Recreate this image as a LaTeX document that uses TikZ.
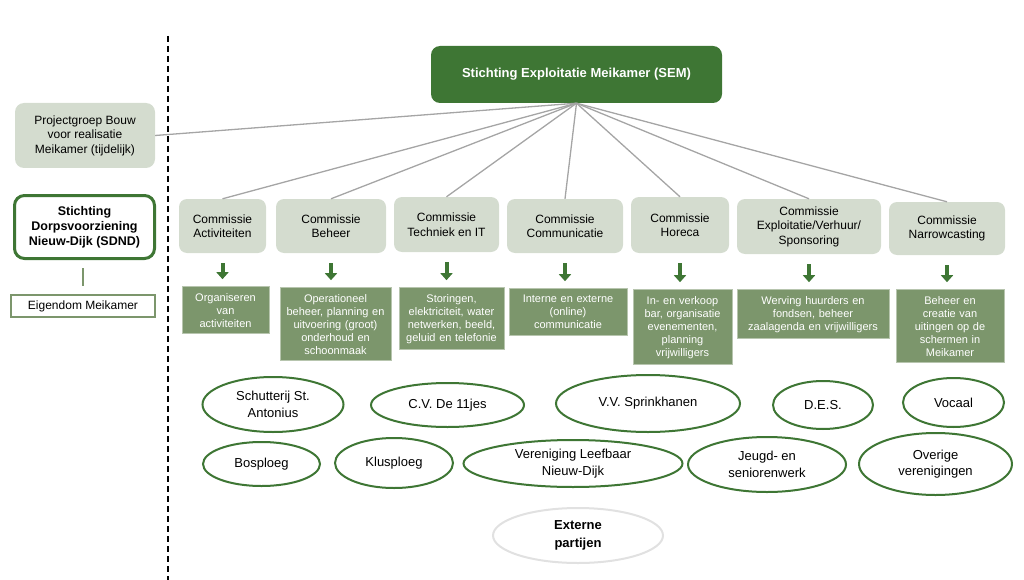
\documentclass[tikz,border=0pt]{standalone}
\usepackage{fontspec}
\setmainfont{Liberation Sans}
\usepackage{tikz}
\usetikzlibrary{positioning, arrows.meta, shapes.geometric}
\definecolor{semgreen}{RGB}{62,118,52}
\definecolor{comgray}{RGB}{212,220,207}
\definecolor{taskgreen}{RGB}{124,150,108}
\definecolor{linegray}{RGB}{165,165,165}
\definecolor{extgray}{RGB}{225,225,225}

\begin{document}
\begin{tikzpicture}[x=1pt, y=-1pt, font=\fontsize{12}{14.5}\selectfont,
    com/.style={rounded corners=8pt, fill=comgray, align=center, minimum height=54pt, inner sep=2pt},
    task/.style={fill=taskgreen, draw=taskgreen!55, line width=0.8pt, text=white, align=center,
      inner xsep=2pt, inner ysep=6.5pt, font=\fontsize{11}{13}\selectfont},
    club/.style={ellipse, draw=semgreen, line width=2pt, fill=white, align=center, inner sep=0pt,
      font=\fontsize{13}{16.5}\selectfont},
    down/.style={-{Triangle[width=12pt,length=7pt]}, line width=4pt, draw=semgreen,
      shorten <=10pt, shorten >=7pt},
    tie/.style={draw=linegray, line width=1.3pt}]
  \useasboundingbox (0,0) rectangle (1024,580);
  % scheiding
  \coordinate (top) at (168,36);
  \coordinate (bot) at (168,580);
  \draw[line width=1.5pt, dash pattern=on 6pt off 4pt] (top) -- (bot);
  % bestuur
  \node[rounded corners=9pt, fill=semgreen, text=white, font=\fontsize{13}{15}\selectfont\bfseries,
        minimum width=291pt, minimum height=57pt] (SEM) at (576.5,74.5) {Stichting Exploitatie Meikamer (SEM)};
  \node[com, rounded corners=9pt, minimum width=140pt, minimum height=65pt] (PB) at (85,135.5)
    {Projectgroep Bouw\\voor realisatie\\Meikamer (tijdelijk)};
  \node[draw=semgreen, line width=3pt, rounded corners=10pt, fill=white, align=center,
        font=\fontsize{12.5}{15}\selectfont\bfseries, minimum width=140pt, minimum height=63pt] (SD) at (84.5,227)
    {Stichting\\Dorpsvoorziening\\Nieuw-Dijk (SDND)};
  \node[draw=taskgreen, line width=2pt, fill=white, minimum width=144pt, minimum height=22pt] (EM) at (83,306)
    {Eigendom Meikamer};
  \draw[draw=taskgreen, line width=2pt, shorten <=8pt, shorten >=8pt] (SD.south -| EM) -- (EM.north);
  % commissies
  \node[com, minimum width=87pt] (C1) at (222.5,226) {Commissie\\Activiteiten};
  \node[com, minimum width=110pt] (C2) at (331,226) {Commissie\\Beheer};
  \node[com, minimum width=105pt, minimum height=55pt] (C3) at (446.5,224.5) {Commissie\\Techniek en IT};
  \node[com, minimum width=116pt] (C4) at (565,226) {Commissie\\Communicatie};
  \node[com, minimum width=98pt, minimum height=56pt] (C5) at (680,225) {Commissie\\Horeca};
  \node[com, minimum width=144pt, minimum height=55pt] (C6) at (809,226.5) {Commissie\\Exploitatie/Verhuur/\\Sponsoring};
  \node[com, minimum width=116pt, minimum height=53pt] (C7) at (947,228.5) {Commissie\\Narrowcasting};
  \draw[tie] (SEM.south) -- (PB.east);
  \foreach \c in {C1,C2,C3,C4,C5,C6,C7}
    \draw[tie] (SEM.south) -- (\c.north);
  % taken
  \node[task, text width=83pt, below=33pt of C1, xshift=3pt] (T1) {Organiseren\\van\\activiteiten};
  \node[task, text width=107pt, below=34pt of C2, xshift=4.5pt] (T2)
    {Operationeel\\beheer, planning en\\uitvoering (groot)\\onderhoud en\\schoonmaak};
  \node[task, text width=101pt, below=35pt of C3, xshift=5pt] (T3)
    {Storingen,\\elektriciteit, water\\netwerken, beeld,\\geluid en telefonie};
  \node[task, text width=114pt, below=35pt of C4, xshift=3pt] (T4) {Interne en externe\\(online)\\communicatie};
  \node[task, text width=95pt, below=36pt of C5, xshift=2.5pt] (T5)
    {In- en verkoop\\bar, organisatie\\evenementen,\\planning\\vrijwilligers};
  \node[task, text width=148pt, below=35pt of C6, xshift=4pt] (T6)
    {Werving huurders en\\fondsen, beheer\\zaalagenda en vrijwilligers};
  \node[task, text width=104pt, below=34pt of C7, xshift=3pt] (T7)
    {Beheer en creatie van\\uitingen op de\\schermen in\\Meikamer};
  \foreach \i in {1,...,7}
    \draw[down] (C\i.south) -- (C\i.south |- T\i.north);
  % verenigingen
  \node[club, minimum width=141pt, minimum height=55pt] (V1) at (273,404.5) {Schutterij St.\\Antonius};
  \node[club, minimum width=153pt, minimum height=44pt] (V2) at (447.5,405) {C.V. De 11jes};
  \node[club, minimum width=184pt, minimum height=57pt] (V3) at (648,403.5) {V.V. Sprinkhanen};
  \node[club, minimum width=100pt, minimum height=48pt] (V4) at (823,405) {D.E.S.};
  \node[club, minimum width=101pt, minimum height=49pt] (V5) at (953.5,402.5) {Vocaal};
  \node[club, minimum width=117pt, minimum height=44pt] (V6) at (261.5,464) {Bosploeg};
  \node[club, minimum width=118pt, minimum height=50pt] (V7) at (394,463) {Klusploeg};
  \node[club, minimum width=219pt, minimum height=47pt] (V8) at (573,463.5) {Vereniging Leefbaar\\Nieuw-Dijk};
  \node[club, minimum width=158pt, minimum height=55pt] (V9) at (767,464.5) {Jeugd- en\\seniorenwerk};
  \node[club, minimum width=153pt, minimum height=62pt] (V10) at (935.5,464) {Overige\\verenigingen};
  \node[club, draw=extgray, font=\fontsize{13}{18}\selectfont\bfseries,
        minimum width=170pt, minimum height=55pt] (EP) at (578,535.5) {Externe\\partijen};
\end{tikzpicture}
\end{document}
